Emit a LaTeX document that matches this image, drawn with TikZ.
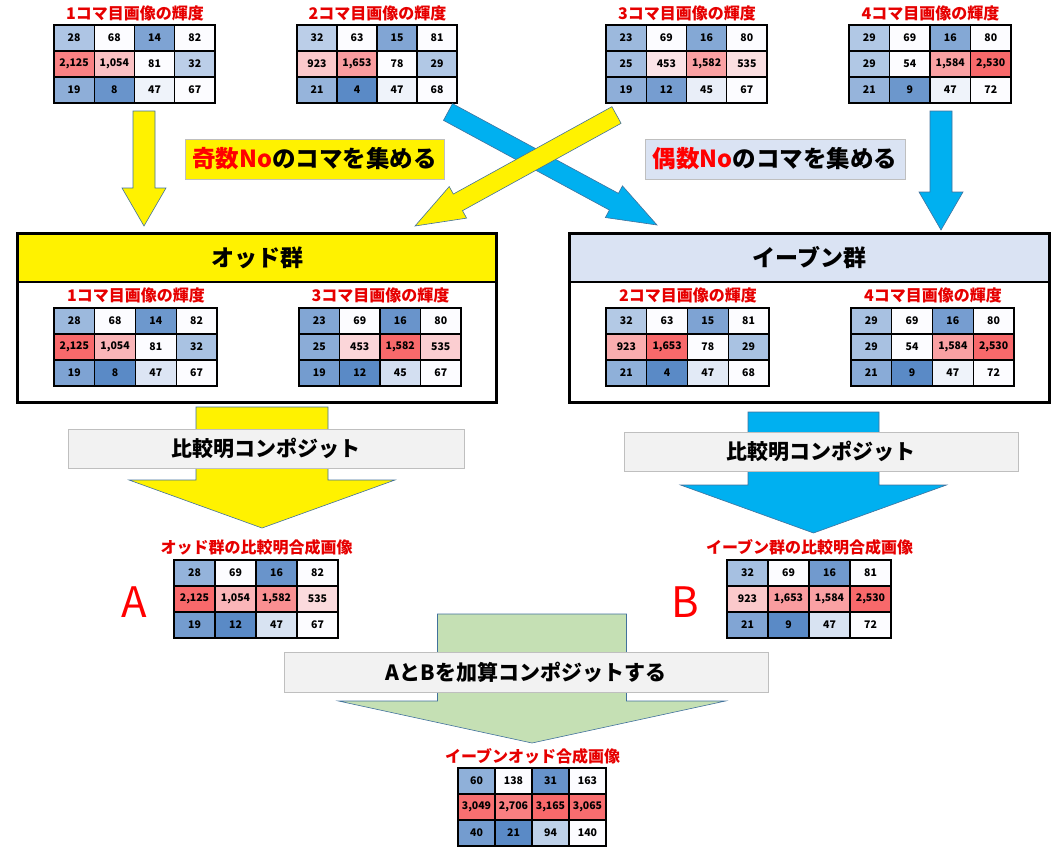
\documentclass[tikz,border=0pt]{standalone}
\usepackage{fontspec}
\setmainfont{Noto Sans CJK JP}
\usetikzlibrary{calc}

\definecolor{cold}{HTML}{5A8AC6}
\definecolor{blank}{HTML}{FCFCFF}
\definecolor{hot}{HTML}{F8696B}
\definecolor{titlered}{HTML}{E60000}
\definecolor{skyblue}{HTML}{00B0F0}
\definecolor{paleblue}{HTML}{DAE3F3}
\definecolor{palegreen}{HTML}{C5E0B4}
\definecolor{panelgray}{HTML}{F2F2F2}
\definecolor{edgegray}{HTML}{BFBFBF}
\definecolor{arrowedge}{HTML}{41719C}

\tikzset{
  cell/.style={draw=black, line width=1.1pt, inner sep=0pt, minimum height=26pt,
    font=\bfseries\fontsize{10.5}{10.5}\selectfont},
  gridtitle/.style={text=titlered, inner sep=0pt, font=\bfseries\fontsize{16}{16}\selectfont},
  panel/.style={draw=black, line width=2.6pt, anchor=north west, inner sep=0pt, outer sep=0pt},
  header/.style={panel, font=\bfseries\fontsize{23}{23}\selectfont},
  note/.style={draw=edgegray, line width=0.8pt, minimum height=40pt, inner sep=0pt,
    font=\bfseries\fontsize{23.5}{23.5}\selectfont},
  mergenote/.style={draw=edgegray, fill=panelgray, line width=0.8pt, minimum height=39pt,
    inner sep=0pt, font=\bfseries\fontsize{21}{21}\selectfont},
  yellowarrow/.style={fill=yellow, draw=arrowedge, line width=0.6pt},
  bluearrow/.style={fill=skyblue, draw=arrowedge, line width=0.6pt},
  greenarrow/.style={fill=palegreen, draw=arrowedge, line width=0.6pt},
  bigletter/.style={text=red, inner sep=0pt, font=\fontsize{42}{42}\selectfont}
}

% grid of 3x4 cells: name, north west corner, cell width, value/shade list
\newcommand{\lumgrid}[4]{%
  \foreach \val/\shade [count=\k from 0] in {#4} {
    \pgfmathtruncatemacro{\row}{div(\k,4)}
    \pgfmathtruncatemacro{\col}{mod(\k,4)}
    \node[cell, minimum width=#3pt, fill=\shade] (#1-\row-\col)
      at ($(#2)+(\col*#3+#3/2,\row*26+13)$) {\val};
  }}

% block arrow: style, tail, tip, shaft half width, head half width, head length
\newcommand{\blockarrow}[6]{%
  \coordinate (neck) at ($(#3)!#6!(#2)$);
  \draw[#1] ($(#2)!#4!90:(#3)$) -- ($(neck)!#4!90:(#3)$) -- ($(neck)!#5!90:(#3)$) -- (#3)
    -- ($(neck)!#5!-90:(#3)$) -- ($(neck)!#4!-90:(#3)$) -- ($(#2)!#4!-90:(#3)$) -- cycle;}

\begin{document}
\begin{tikzpicture}[x=1pt, y=-1pt]
\useasboundingbox (0,0) rectangle (1060,852);

% frames 1-4
\lumgrid{t1}{54,25}{40.25}{28/cold!48!blank, 68/blank, 14/cold!78!blank, 82/blank,
  {2,125}/hot!84!blank, {1,054}/hot!40!blank, 81/blank, 32/cold!40!blank,
  19/cold!68!blank, 8/cold!91!blank, 47/cold!8!blank, 67/blank}
\lumgrid{t2}{297,25}{40}{32/cold!40!blank, 63/blank, 15/cold!76!blank, 81/blank,
  923/hot!35!blank, {1,653}/hot!65!blank, 78/blank, 29/cold!46!blank,
  21/cold!63!blank, 4/cold, 47/cold!8!blank, 68/blank}
\lumgrid{t3}{606,25}{40.25}{23/cold!59!blank, 69/blank, 16/cold!74!blank, 80/blank,
  25/cold!55!blank, 453/hot!16!blank, {1,582}/hot!62!blank, 535/hot!20!blank,
  19/cold!68!blank, 12/cold!83!blank, 45/cold!12!blank, 67/blank}
\lumgrid{t4}{849,25}{40.5}{29/cold!46!blank, 69/blank, 16/cold!74!blank, 80/blank,
  29/cold!46!blank, 54/blank, {1,584}/hot!62!blank, {2,530}/hot,
  21/cold!63!blank, 9/cold!89!blank, 47/cold!8!blank, 72/blank}
\node[gridtitle] (t1-title) at ($(t1-0-1.north east)+(0,-11.5)$) {1コマ目画像の輝度};
\node[gridtitle] (t2-title) at ($(t2-0-1.north east)+(0,-11.5)$) {2コマ目画像の輝度};
\node[gridtitle] (t3-title) at ($(t3-0-1.north east)+(0,-11.5)$) {3コマ目画像の輝度};
\node[gridtitle] (t4-title) at ($(t4-0-1.north east)+(0,-11.5)$) {4コマ目画像の輝度};

% sorting arrows
\coordinate (oddin-tail) at (144,111);
\coordinate (oddin-tip) at (144,226);
\coordinate (evenin-tail) at (941,111);
\coordinate (evenin-tip) at (941,230);
\coordinate (cross-tail) at (448,112);
\coordinate (cross-tip) at (657,225);
\coordinate (back-tail) at (616.5,115);
\coordinate (back-tip) at (415,226);
\blockarrow{yellowarrow}{oddin-tail}{oddin-tip}{11pt}{22pt}{38pt}
\blockarrow{bluearrow}{evenin-tail}{evenin-tip}{11pt}{22pt}{38pt}
\blockarrow{bluearrow}{cross-tail}{cross-tip}{9.5pt}{18pt}{49pt}
\blockarrow{yellowarrow}{back-tail}{back-tip}{9.5pt}{18pt}{49pt}

\node[note, fill=yellow, minimum width=259pt] (oddnote) at (314.5,159)
  {\textcolor{red}{奇数No}のコマを集める};
\node[note, fill=paleblue, minimum width=260pt] (evennote) at (775,159)
  {\textcolor{red}{偶数No}のコマを集める};

% odd group
\node[panel, minimum width=479pt, minimum height=169pt] (oddpanel) at (17.5,233.5) {};
\node[header, fill=yellow, minimum width=479pt, minimum height=48.5pt] (oddhead) at (17.5,233.5) {オッド群};
\lumgrid{o1}{54,308}{40.75}{28/cold!59!blank, 68/blank, 14/cold!88!blank, 82/blank,
  {2,125}/hot, {1,054}/hot!48!blank, 81/blank, 32/cold!51!blank,
  19/cold!78!blank, 8/cold, 47/cold!20!blank, 67/blank}
\lumgrid{o3}{299,308}{40.5}{23/cold!75!blank, 69/blank, 16/cold!91!blank, 80/blank,
  25/cold!70!blank, 453/hot!26!blank, {1,582}/hot, 535/hot!31!blank,
  19/cold!84!blank, 12/cold, 45/cold!25!blank, 67/blank}
\node[gridtitle] (o1-title) at ($(o1-0-1.north east)+(0,-12)$) {1コマ目画像の輝度};
\node[gridtitle] (o3-title) at ($(o3-0-1.north east)+(0,-12)$) {3コマ目画像の輝度};

% even group
\node[panel, minimum width=480pt, minimum height=169pt] (evenpanel) at (569.5,233.5) {};
\node[header, fill=paleblue, minimum width=480pt, minimum height=48.5pt] (evenhead) at (569.5,233.5) {イーブン群};
\lumgrid{e2}{606,308}{40.75}{32/cold!45!blank, 63/blank, 15/cold!78!blank, 81/blank,
  923/hot!54!blank, {1,653}/hot, 78/blank, 29/cold!51!blank,
  21/cold!67!blank, 4/cold, 47/cold!16!blank, 68/blank}
\lumgrid{e4}{851,308}{40.75}{29/cold!52!blank, 69/blank, 16/cold!83!blank, 80/blank,
  29/cold!52!blank, 54/blank, {1,584}/hot!62!blank, {2,530}/hot,
  21/cold!71!blank, 9/cold, 47/cold!8!blank, 72/blank}
\node[gridtitle] (e2-title) at ($(e2-0-1.north east)+(0,-12)$) {2コマ目画像の輝度};
\node[gridtitle] (e4-title) at ($(e4-0-1.north east)+(0,-12)$) {4コマ目画像の輝度};

% lighten composite
\coordinate (oddmerge-tail) at (262,407);
\coordinate (oddmerge-tip) at (262,528);
\coordinate (evenmerge-tail) at (813.5,412);
\coordinate (evenmerge-tip) at (813.5,533);
\blockarrow{yellowarrow}{oddmerge-tail}{oddmerge-tip}{66pt}{133pt}{48pt}
\blockarrow{bluearrow}{evenmerge-tail}{evenmerge-tip}{65.5pt}{133pt}{48pt}
\node[mergenote, minimum width=396pt] (oddmerge) at (266,448.5) {比較明コンポジット};
\node[mergenote, minimum width=394pt] (evenmerge) at (821,451.5) {比較明コンポジット};

% results A and B
\lumgrid{ra}{174,560}{41}{28/cold!64!blank, 69/blank, 16/cold!91!blank, 82/blank,
  {2,125}/hot, {1,054}/hot!48!blank, {1,582}/hot!74!blank, 535/hot!23!blank,
  19/cold!84!blank, 12/cold, 47/cold!22!blank, 67/blank}
\lumgrid{rb}{727,560}{41}{32/cold!53!blank, 69/blank, 16/cold!86!blank, 81/blank,
  923/hot!35!blank, {1,653}/hot!65!blank, {1,584}/hot!62!blank, {2,530}/hot,
  21/cold!76!blank, 9/cold, 47/cold!22!blank, 72/blank}
\node[gridtitle] (ra-title) at ($(ra-0-1.north east)+(0,-12)$) {オッド群の比較明合成画像};
\node[gridtitle] (rb-title) at ($(rb-0-1.north east)+(0,-12)$) {イーブン群の比較明合成画像};
\node[bigletter] (labA) at (134.5,602) {A};
\node[bigletter] (labB) at (685,602) {B};

% additive composite
\coordinate (add-tail) at (532,614);
\coordinate (add-tip) at (532,743);
\blockarrow{greenarrow}{add-tail}{add-tip}{94.5pt}{193.5pt}{42pt}
\node[mergenote, minimum width=484pt, minimum height=40pt] (addnote) at (526,672) {AとBを加算コンポジットする};

\lumgrid{fin}{458,768}{37}{60/cold!67!blank, 138/blank, 31/cold!92!blank, 163/blank,
  {3,049}/hot!96!blank, {2,706}/hot!85!blank, {3,165}/hot, {3,065}/hot!97!blank,
  40/cold!84!blank, 21/cold, 94/cold!38!blank, 140/blank}
\node[gridtitle] (fin-title) at ($(fin-0-1.north east)+(0,-11)$) {イーブンオッド合成画像};
\end{tikzpicture}
\end{document}
